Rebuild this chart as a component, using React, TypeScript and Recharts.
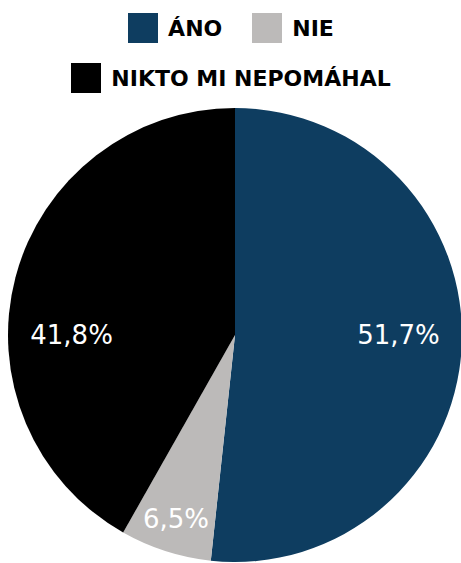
import React from "react";
import { Cell, Pie, PieChart } from "recharts";

const categories = ["ÁNO", "NIE", "NIKTO MI NEPOMÁHAL"];
const shares = [51.7, 6.5, 41.8];
const colors = ["#0e3d60", "#bcbab9", "#000000"];

const data = categories.map((name, i) => ({ name, value: shares[i] }));

const FONT = "'DejaVu Sans', sans-serif";
const RAD = Math.PI / 180;

// big slices get their label level with the centre, the thin one sits near the rim
function renderLabel(props: any) {
  const { cx, cy, outerRadius, midAngle, percent, index } = props;
  const cos = Math.cos(-midAngle * RAD);
  const sin = Math.sin(-midAngle * RAD);
  let x: number;
  let y: number;
  if (percent > 0.25) {
    x = cx + Math.sign(cos) * outerRadius * 0.72;
    y = cy;
  } else {
    x = cx + outerRadius * 0.85 * cos;
    y = cy + outerRadius * 0.85 * sin;
  }
  return (
    <text
      x={x}
      y={y}
      fill="#ffffff"
      fontFamily={FONT}
      fontSize={26}
      textAnchor="middle"
      dominantBaseline="central"
    >
      {shares[index].toFixed(1).replace(".", ",")}%
    </text>
  );
}

function LegendRow() {
  return (
    <div
      style={{
        position: "absolute",
        left: 61,
        top: 13,
        width: 340,
        display: "flex",
        flexWrap: "wrap",
        justifyContent: "center",
        columnGap: 30,
        rowGap: 20,
        fontFamily: FONT,
        fontWeight: "bold",
        fontSize: 22,
        color: "#000",
      }}
    >
      {categories.map((c, i) => (
        <div key={c} style={{ display: "flex", alignItems: "center", height: 30 }}>
          <span
            style={{
              width: 30,
              height: 30,
              background: colors[i],
              marginRight: 10,
              display: "inline-block",
            }}
          />
          <span>{c}</span>
        </div>
      ))}
    </div>
  );
}

export default function App() {
  return (
    <div
      style={{
        position: "absolute",
        left: 0,
        top: 0,
        width: 461,
        height: 563,
        overflow: "hidden",
        background: "#fff",
      }}
    >
      <PieChart width={461} height={563} margin={{ top: 0, right: 0, bottom: 0, left: 0 }}>
        <Pie
          data={data}
          dataKey="value"
          nameKey="name"
          cx={235}
          cy={335}
          outerRadius={227}
          startAngle={90}
          endAngle={-270}
          stroke="none"
          labelLine={false}
          label={renderLabel}
          isAnimationActive={false}
        >
          {data.map((_, i) => (
            <Cell key={i} fill={colors[i]} />
          ))}
        </Pie>
      </PieChart>
      <LegendRow />
    </div>
  );
}
